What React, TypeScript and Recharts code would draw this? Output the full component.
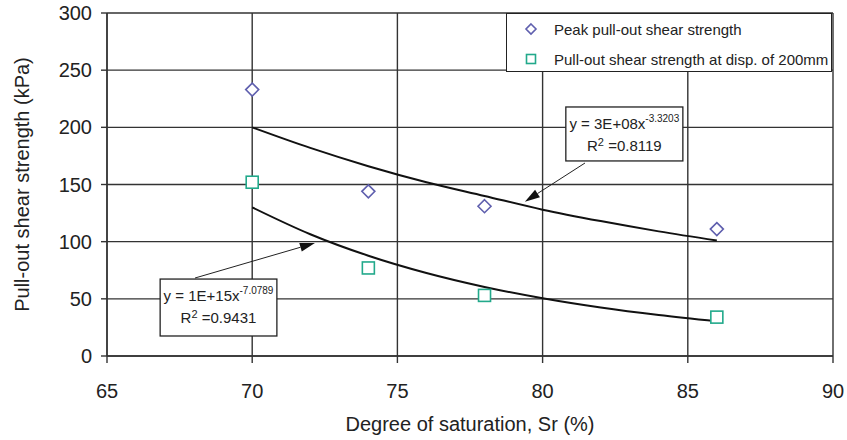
import {
  ComposedChart,
  Line,
  Scatter,
  XAxis,
  YAxis,
  CartesianGrid,
  Legend,
  ReferenceArea,
  ReferenceLine,
  Label,
} from 'recharts';

const xTicks = [65, 70, 75, 80, 85, 90];
const yTicks = [0, 50, 100, 150, 200, 250, 300];

// measured points
const saturation = [70, 74, 78, 86];
const peakShear = [233, 144, 131, 111];
const dispShear = [152, 77, 53, 34];

// power-law trend lines
const trendX = [70, 72, 74, 76, 78, 80, 82, 84, 86];
const peakTrend = [200, 182, 166, 152, 140, 128, 118, 109, 101];
const dispTrend = [130, 106.5, 87.7, 72.6, 60.4, 50.5, 42.4, 35.8, 30.3];

// equation call-outs: [x1, x2, y1, y2] box, then arrow [fromX, fromY, toX, toY]
const peakEqBox = [80.8, 84.83, 170.6, 217.8];
const peakEqArrow = [81.46, 168.8, 79.39, 135];
const dispEqBox = [66.83, 70.85, 17.5, 67.3];
const dispEqArrow = [68.03, 68.2, 72.16, 98.8];

const FONT = 'Arial, "Liberation Sans", Helvetica, sans-serif';
const INK = '#222';
const GRID = '#333';
const PEAK = '#5f5fae';
const DISP = '#22a98b';

const peakRows = saturation.map((x, i) => ({ x, y: peakShear[i] }));
const dispRows = saturation.map((x, i) => ({ x, y: dispShear[i] }));
const peakTrendRows = trendX.map((x, i) => ({ x, y: peakTrend[i] }));
const dispTrendRows = trendX.map((x, i) => ({ x, y: dispTrend[i] }));

// eslint-disable-next-line @typescript-eslint/no-explicit-any
const Diamond = ({ cx, cy }: any) => (
  <path
    d={`M${cx},${cy - 6.5} L${cx + 6.5},${cy} L${cx},${cy + 6.5} L${cx - 6.5},${cy} Z`}
    fill="#fff"
    stroke={PEAK}
    strokeWidth={1.6}
  />
);

// eslint-disable-next-line @typescript-eslint/no-explicit-any
const Square = ({ cx, cy }: any) => (
  <rect x={cx - 6} y={cy - 6} width={12} height={12} fill="#fff" stroke={DISP} strokeWidth={1.6} />
);

function eqBox(base: string, exp: string, r2: string) {
  // eslint-disable-next-line @typescript-eslint/no-explicit-any
  return ({ x, y, width, height }: any) => (
    <g>
      <rect x={x} y={y} width={width} height={height} fill="#fff" stroke={INK} strokeWidth={1.3} />
      <text x={x + width / 2} y={y + 22} textAnchor="middle" fontFamily={FONT} fontSize={15} fill={INK}>
        {base}
        <tspan fontSize={10} dy={-7}>{exp}</tspan>
      </text>
      <text x={x + width / 2} y={y + 44} textAnchor="middle" fontFamily={FONT} fontSize={15} fill={INK}>
        R<tspan fontSize={11} dy={-5}>2</tspan>
        <tspan dy={5}> =</tspan>
        {r2}
      </text>
    </g>
  );
}

// eslint-disable-next-line @typescript-eslint/no-explicit-any
const Arrow = ({ x1, y1, x2, y2 }: any) => {
  const dx = x2 - x1;
  const dy = y2 - y1;
  const len = Math.hypot(dx, dy) || 1;
  const ux = dx / len;
  const uy = dy / len;
  const bx = x2 - ux * 15;
  const by = y2 - uy * 15;
  const head = `${x2},${y2} ${bx - uy * 4.5},${by + ux * 4.5} ${bx + uy * 4.5},${by - ux * 4.5}`;
  return (
    <g>
      <line x1={x1} y1={y1} x2={bx} y2={by} stroke={INK} strokeWidth={1} />
      <polygon points={head} fill="#111" />
    </g>
  );
};

// eslint-disable-next-line @typescript-eslint/no-explicit-any
const YTitle = ({ viewBox }: any) => {
  const cy = viewBox.y + viewBox.height / 2;
  return (
    <text
      x={22}
      y={cy}
      transform={`rotate(-90 22 ${cy})`}
      textAnchor="middle"
      dominantBaseline="central"
      fontFamily={FONT}
      fontSize={20}
      fill={INK}
    >
      Pull-out shear strength (kPa)
    </text>
  );
};

// eslint-disable-next-line @typescript-eslint/no-explicit-any
const XTitle = ({ viewBox }: any) => (
  <text
    x={viewBox.x + viewBox.width / 2}
    y={431}
    textAnchor="middle"
    fontFamily={FONT}
    fontSize={20}
    fill={INK}
  >
    Degree of saturation, Sr (%)
  </text>
);

function LegendBox() {
  const row = { display: 'flex', alignItems: 'center', height: 30 };
  return (
    <div
      style={{
        width: 326,
        height: 59,
        boxSizing: 'border-box',
        border: `1.3px solid ${INK}`,
        background: '#fff',
        fontFamily: FONT,
        fontSize: 15,
        color: INK,
        paddingLeft: 17,
        whiteSpace: 'nowrap',
      }}
    >
      <div style={row}>
        <svg width={14} height={14} style={{ marginRight: 16, flexShrink: 0 }}>
          <path d="M7,2 L12,7 L7,12 L2,7 Z" fill="#fff" stroke={PEAK} strokeWidth={1.6} />
        </svg>
        Peak pull-out shear strength
      </div>
      <div style={row}>
        <svg width={14} height={14} style={{ marginRight: 16, flexShrink: 0 }}>
          <rect x={2.5} y={2.5} width={9} height={9} fill="#fff" stroke={DISP} strokeWidth={1.6} />
        </svg>
        Pull-out shear strength at disp. of 200mm
      </div>
    </div>
  );
}

export default function App() {
  const tick = { fontSize: 20, fill: INK, fontFamily: FONT };
  return (
    <div style={{ position: 'absolute', left: 0, top: 0, width: 847, height: 440, background: '#fff' }}>
      <ComposedChart width={847} height={440} margin={{ top: 13, right: 14, bottom: 0, left: 0 }}>
        <CartesianGrid stroke={GRID} strokeWidth={1.4} horizontalValues={yTicks} verticalValues={xTicks} />
        <XAxis
          dataKey="x"
          type="number"
          domain={[65, 90]}
          ticks={xTicks}
          height={84}
          tickSize={7}
          tickMargin={21}
          tick={tick}
          stroke={GRID}
          strokeWidth={1.4}
          allowDataOverflow
        >
          <Label content={<XTitle />} />
        </XAxis>
        <YAxis
          type="number"
          domain={[0, 300]}
          ticks={yTicks}
          width={107}
          tickSize={6}
          tickMargin={9}
          tick={tick}
          stroke={GRID}
          strokeWidth={1.4}
          allowDataOverflow
        >
          <Label content={<YTitle />} />
        </YAxis>
        <Legend
          verticalAlign="middle"
          align="center"
          content={<LegendBox />}
          wrapperStyle={{ left: 506, top: 13, width: 326, height: 59 }}
        />
        <Line
          data={peakTrendRows}
          dataKey="y"
          type="monotone"
          stroke="#111"
          strokeWidth={2}
          dot={false}
          legendType="none"
          isAnimationActive={false}
        />
        <Line
          data={dispTrendRows}
          dataKey="y"
          type="monotone"
          stroke="#111"
          strokeWidth={2}
          dot={false}
          legendType="none"
          isAnimationActive={false}
        />
        <Scatter data={peakRows} dataKey="y" shape={<Diamond />} isAnimationActive={false} />
        <Scatter data={dispRows} dataKey="y" shape={<Square />} isAnimationActive={false} />
        <ReferenceLine
          segment={[
            { x: peakEqArrow[0], y: peakEqArrow[1] },
            { x: peakEqArrow[2], y: peakEqArrow[3] },
          ]}
          shape={Arrow}
        />
        <ReferenceLine
          segment={[
            { x: dispEqArrow[0], y: dispEqArrow[1] },
            { x: dispEqArrow[2], y: dispEqArrow[3] },
          ]}
          shape={Arrow}
        />
        <ReferenceArea
          x1={peakEqBox[0]}
          x2={peakEqBox[1]}
          y1={peakEqBox[2]}
          y2={peakEqBox[3]}
          shape={eqBox('y = 3E+08x', '-3.3203', '0.8119')}
        />
        <ReferenceArea
          x1={dispEqBox[0]}
          x2={dispEqBox[1]}
          y1={dispEqBox[2]}
          y2={dispEqBox[3]}
          shape={eqBox('y = 1E+15x', '-7.0789', '0.9431')}
        />
      </ComposedChart>
    </div>
  );
}
